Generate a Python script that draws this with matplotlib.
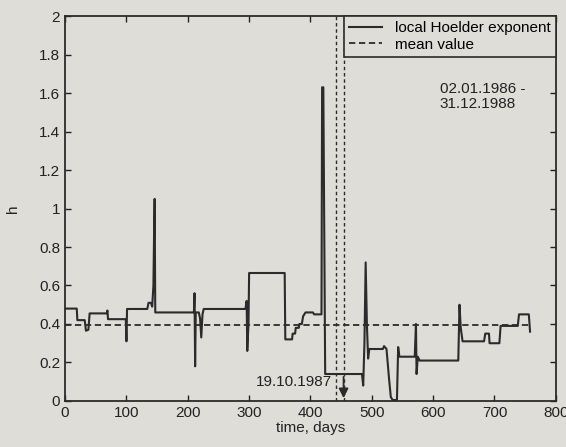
import matplotlib
matplotlib.use("Agg")
import matplotlib.pyplot as plt

plt.rcParams['font.family'] = ['Liberation Sans', 'DejaVu Sans']

# local Hoelder exponent (step-like series): day, value
days = [0, 19, 20, 32, 34, 38, 40, 68, 69, 70, 99, 100, 101, 134, 136, 140, 142, 144, 145, 146, 147,
        210, 211, 212, 213, 218, 220, 222, 224, 226, 294, 296, 297, 299, 300, 358, 359, 370, 371, 375,
        376, 381, 382, 386, 388, 392, 404, 406, 418, 419, 421, 424, 484, 486, 488, 490, 492, 494, 496,
        518, 520, 524, 528, 531, 534, 541, 543, 545, 570, 572, 573, 575, 578, 641, 643, 645, 648, 683,
        685, 691, 692, 708, 710, 738, 740, 756, 758]
h_vals = [0.48, 0.48, 0.42, 0.42, 0.365, 0.37, 0.455, 0.455, 0.47, 0.425, 0.425, 0.31, 0.478, 0.478, 0.51,
          0.51, 0.49, 0.60, 0.85, 1.05, 0.46,
          0.46, 0.56, 0.18, 0.46, 0.46, 0.43, 0.33, 0.45, 0.478, 0.478, 0.52, 0.26, 0.40, 0.665, 0.665, 0.32,
          0.32, 0.35, 0.35, 0.38, 0.38, 0.40, 0.40, 0.44, 0.46, 0.46, 0.45, 0.45, 1.63, 1.63, 0.14, 0.14,
          0.08, 0.30, 0.72, 0.40, 0.22, 0.27, 0.27, 0.285, 0.27, 0.12, 0.02, 0.005, 0.005, 0.28, 0.23, 0.23,
          0.40, 0.14, 0.23, 0.21, 0.21, 0.50, 0.38, 0.31, 0.31, 0.35, 0.35, 0.30, 0.30, 0.39, 0.39, 0.45,
          0.45, 0.36]

mean_value = 0.395
mean_span = [0, 760]
event_days = [441, 454]
crash_label = "19.10.1987"
period_label = "02.01.1986 -\n31.12.1988"

bg = '#deddd8'
ink = '#2b2b2b'
fs = 11

fig = plt.figure(figsize=(5.66, 4.47), dpi=100, facecolor=bg)
ax = fig.add_axes([0.115, 0.103, 0.867, 0.861], facecolor=bg)

ax.plot(days, h_vals, color=ink, lw=1.5, label='local Hoelder exponent')
ax.plot(mean_span, [mean_value, mean_value], color=ink, lw=1.3, ls=(0, (3.5, 2)), label='mean value')

for d in event_days:
    ax.axvline(d, color=ink, lw=1.0, ls=(0, (2.5, 2)))

ax.annotate('', xy=(event_days[1], 0.0), xytext=(event_days[1], 0.14),
            arrowprops=dict(arrowstyle='-|>', color=ink, lw=1.3, mutation_scale=14))

ax.text(event_days[0] - 6, 0.10, crash_label, ha='right', va='center', fontsize=fs, color='#222')
ax.text(611, 1.66, period_label, ha='left', va='top', fontsize=fs, color='#222', linespacing=1.1)

ax.set_xlim(0, 800)
ax.set_ylim(0, 2)
ax.set_xticks(range(0, 801, 100))
yt = [i * 0.2 for i in range(11)]
ax.set_yticks(yt)
ax.set_yticklabels(['0', '0.2', '0.4', '0.6', '0.8', '1', '1.2', '1.4', '1.6', '1.8', '2'])
ax.tick_params(direction='in', top=True, right=True, length=4, width=1, labelsize=fs, colors='#222')
for s in ax.spines.values():
    s.set_color(ink)
    s.set_linewidth(1.3)

ax.set_xlabel('time, days', fontsize=fs, color='#222', labelpad=1)
ax.set_ylabel('h', fontsize=fs, color='#222', labelpad=14)

leg = ax.legend(loc='upper right', fontsize=fs, frameon=True, fancybox=False, borderaxespad=0,
                handlelength=2.2, borderpad=0.35, labelspacing=0.15, handletextpad=0.8)
leg.get_frame().set_edgecolor(ink)
leg.get_frame().set_facecolor(bg)
leg.get_frame().set_linewidth(1.2)
leg.get_frame().set_alpha(1)

fig.savefig('out.png', dpi=100, facecolor=bg)
